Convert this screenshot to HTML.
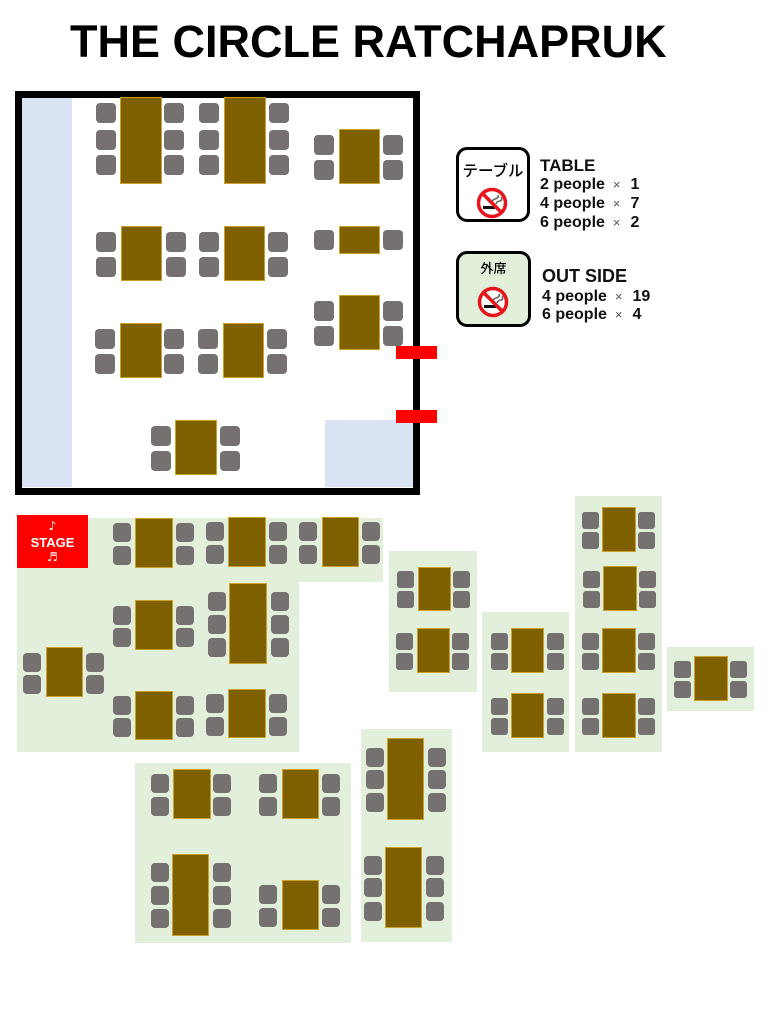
<!DOCTYPE html>
<html><head><meta charset="utf-8"><style>
*{margin:0;padding:0;box-sizing:border-box}
body{width:768px;height:1024px;background:#fff;position:relative;overflow:hidden;font-family:"Liberation Sans",Arial,sans-serif}
div{position:absolute}
.t{background:#7f6000;border:1px solid #c9a227}
.c,.s,.m{background:#767171;border-radius:4px}
.c{width:20px;height:20px}
.s{width:18px;height:19px;border-radius:4px}
.m{width:17px;height:17px;border-radius:3px}
.g{background:#e2efda}
.b{background:#dae3f3}
.r{background:#ff0000}
.tx{white-space:nowrap;font-weight:bold;color:#111}
.x{font-weight:normal;font-size:13px;color:#555;margin-left:8px;margin-right:10px}
</style></head><body>

<div class="tx" style="left:70px;top:19px;font-size:45px;line-height:45px;color:#000">THE CIRCLE RATCHAPRUK</div>

<!-- room -->
<div class="b" style="left:22px;top:98px;width:50px;height:389px"></div>
<div class="b" style="left:325px;top:420px;width:88px;height:67px"></div>
<div style="left:15px;top:91px;width:405px;height:404px;border:7px solid #000"></div>
<div class="r" style="left:396px;top:346px;width:41px;height:13px"></div>
<div class="r" style="left:396px;top:410px;width:41px;height:13px"></div>

<!-- T1 -->
<div class="t" style="left:120px;top:97px;width:42px;height:87px"></div>
<div class="c" style="left:96px;top:103px"></div><div class="c" style="left:96px;top:130px"></div><div class="c" style="left:96px;top:155px"></div>
<div class="c" style="left:164px;top:103px"></div><div class="c" style="left:164px;top:130px"></div><div class="c" style="left:164px;top:155px"></div>
<!-- T2 -->
<div class="t" style="left:224px;top:97px;width:42px;height:87px"></div>
<div class="c" style="left:199px;top:103px"></div><div class="c" style="left:199px;top:130px"></div><div class="c" style="left:199px;top:155px"></div>
<div class="c" style="left:269px;top:103px"></div><div class="c" style="left:269px;top:130px"></div><div class="c" style="left:269px;top:155px"></div>
<!-- T3 -->
<div class="t" style="left:339px;top:129px;width:41px;height:55px"></div>
<div class="c" style="left:314px;top:135px"></div><div class="c" style="left:314px;top:160px"></div>
<div class="c" style="left:383px;top:135px"></div><div class="c" style="left:383px;top:160px"></div>
<!-- T4 -->
<div class="t" style="left:121px;top:226px;width:41px;height:55px"></div>
<div class="c" style="left:96px;top:232px"></div><div class="c" style="left:96px;top:257px"></div>
<div class="c" style="left:166px;top:232px"></div><div class="c" style="left:166px;top:257px"></div>
<!-- T5 -->
<div class="t" style="left:224px;top:226px;width:41px;height:55px"></div>
<div class="c" style="left:199px;top:232px"></div><div class="c" style="left:199px;top:257px"></div>
<div class="c" style="left:268px;top:232px"></div><div class="c" style="left:268px;top:257px"></div>
<!-- T6 -->
<div class="t" style="left:339px;top:226px;width:41px;height:28px"></div>
<div class="c" style="left:314px;top:230px"></div><div class="c" style="left:383px;top:230px"></div>
<!-- T7 -->
<div class="t" style="left:120px;top:323px;width:42px;height:55px"></div>
<div class="c" style="left:95px;top:329px"></div><div class="c" style="left:95px;top:354px"></div>
<div class="c" style="left:164px;top:329px"></div><div class="c" style="left:164px;top:354px"></div>
<!-- T8 -->
<div class="t" style="left:223px;top:323px;width:41px;height:55px"></div>
<div class="c" style="left:198px;top:329px"></div><div class="c" style="left:198px;top:354px"></div>
<div class="c" style="left:267px;top:329px"></div><div class="c" style="left:267px;top:354px"></div>
<!-- T9 -->
<div class="t" style="left:339px;top:295px;width:41px;height:55px"></div>
<div class="c" style="left:314px;top:301px"></div><div class="c" style="left:314px;top:326px"></div>
<div class="c" style="left:383px;top:301px"></div><div class="c" style="left:383px;top:326px"></div>
<!-- T10 -->
<div class="t" style="left:175px;top:420px;width:42px;height:55px"></div>
<div class="c" style="left:151px;top:426px"></div><div class="c" style="left:151px;top:451px"></div>
<div class="c" style="left:220px;top:426px"></div><div class="c" style="left:220px;top:451px"></div>

<!-- legend -->
<div style="left:456px;top:147px;width:74px;height:75px;border:3.5px solid #000;border-radius:11px;background:#fff"></div>
<div style="left:456px;top:163px;width:74px;text-align:center;font-family:'Liberation Sans','Noto Sans CJK JP',sans-serif;font-size:15.5px;font-weight:500;line-height:18px;color:#000">テーブル</div>
<svg style="position:absolute;left:475px;top:186px" width="34" height="34" viewBox="-17 -17 34 34">
<circle r="13.5" fill="#fff" stroke="#e8141b" stroke-width="3.5"/>
<rect x="-9" y="3" width="12" height="3" fill="#111"/>
<path d="M1 1 q-2 -4 2 -5 q4 -1 3 -4 M4 1 q1 -3 4 -3 q3 -1 1 -4" fill="none" stroke="#666" stroke-width="1.6"/>
<line x1="-9.5" y1="-9.5" x2="9.5" y2="9.5" stroke="#e8141b" stroke-width="3.5"/>
</svg>

<div style="left:456px;top:251px;width:75px;height:76px;border:3.5px solid #000;border-radius:11px;background:#e2efda"></div>
<div style="left:456px;top:261px;width:75px;text-align:center;font-family:'Liberation Sans','Noto Sans CJK JP',sans-serif;font-size:13px;font-weight:500;line-height:16px;color:#000">外席</div>
<svg style="position:absolute;left:476px;top:285px" width="34" height="34" viewBox="-17 -17 34 34">
<circle r="13.5" fill="#fff" stroke="#e8141b" stroke-width="3.5"/>
<rect x="-9" y="3" width="12" height="3" fill="#111"/>
<path d="M1 1 q-2 -4 2 -5 q4 -1 3 -4 M4 1 q1 -3 4 -3 q3 -1 1 -4" fill="none" stroke="#666" stroke-width="1.6"/>
<line x1="-9.5" y1="-9.5" x2="9.5" y2="9.5" stroke="#e8141b" stroke-width="3.5"/>
</svg>

<div class="tx" style="left:540px;top:156.6px;font-size:17px;line-height:17px">TABLE</div>
<div class="tx" style="left:540px;top:176.5px;font-size:16px;line-height:16px">2 people<span class="x">×</span>1</div>
<div class="tx" style="left:540px;top:195.5px;font-size:16px;line-height:16px">4 people<span class="x">×</span>7</div>
<div class="tx" style="left:540px;top:214.5px;font-size:16px;line-height:16px">6 people<span class="x">×</span>2</div>
<div class="tx" style="left:542px;top:266.8px;font-size:18px;line-height:18px">OUT SIDE</div>
<div class="tx" style="left:542px;top:288.5px;font-size:16px;line-height:16px">4 people<span class="x">×</span>19</div>
<div class="tx" style="left:542px;top:306.5px;font-size:16px;line-height:16px">6 people<span class="x">×</span>4</div>

<!-- outside green areas -->
<div class="g" style="left:17px;top:518px;width:366px;height:64px"></div>
<div class="g" style="left:17px;top:582px;width:282px;height:170px"></div>
<div class="g" style="left:389px;top:551px;width:88px;height:141px"></div>
<div class="g" style="left:482px;top:612px;width:87px;height:140px"></div>
<div class="g" style="left:575px;top:496px;width:87px;height:256px"></div>
<div class="g" style="left:667px;top:647px;width:87px;height:64px"></div>
<div class="g" style="left:135px;top:763px;width:216px;height:180px"></div>
<div class="g" style="left:361px;top:729px;width:91px;height:213px"></div>

<!-- stage -->
<div class="r" style="left:17px;top:515px;width:71px;height:53px"></div>
<div style="left:17px;top:519px;width:71px;text-align:center;color:#fff;font-size:12px;line-height:14px;font-family:'DejaVu Sans',sans-serif">♪</div>
<div style="left:17px;top:536px;width:71px;text-align:center;color:#fff;font-weight:bold;font-size:13px;line-height:14px">STAGE</div>
<div style="left:17px;top:550px;width:71px;text-align:center;color:#fff;font-size:12px;line-height:14px;font-family:'DejaVu Sans',sans-serif">♬</div>

<!-- Ta -->
<div class="t" style="left:135px;top:518px;width:38px;height:50px"></div>
<div class="s" style="left:113px;top:523px"></div><div class="s" style="left:113px;top:546px"></div>
<div class="s" style="left:176px;top:523px"></div><div class="s" style="left:176px;top:546px"></div>
<!-- Tb -->
<div class="t" style="left:228px;top:517px;width:38px;height:50px"></div>
<div class="s" style="left:206px;top:522px"></div><div class="s" style="left:206px;top:545px"></div>
<div class="s" style="left:269px;top:522px"></div><div class="s" style="left:269px;top:545px"></div>
<!-- Tc -->
<div class="t" style="left:322px;top:517px;width:37px;height:50px"></div>
<div class="s" style="left:299px;top:522px"></div><div class="s" style="left:299px;top:545px"></div>
<div class="s" style="left:362px;top:522px"></div><div class="s" style="left:362px;top:545px"></div>
<!-- Td -->
<div class="t" style="left:135px;top:600px;width:38px;height:50px"></div>
<div class="s" style="left:113px;top:606px"></div><div class="s" style="left:113px;top:628px"></div>
<div class="s" style="left:176px;top:606px"></div><div class="s" style="left:176px;top:628px"></div>
<!-- Te -->
<div class="t" style="left:229px;top:583px;width:38px;height:81px"></div>
<div class="s" style="left:208px;top:592px"></div><div class="s" style="left:208px;top:615px"></div><div class="s" style="left:208px;top:638px"></div>
<div class="s" style="left:271px;top:592px"></div><div class="s" style="left:271px;top:615px"></div><div class="s" style="left:271px;top:638px"></div>
<!-- Tf -->
<div class="t" style="left:46px;top:647px;width:37px;height:50px"></div>
<div class="s" style="left:23px;top:653px"></div><div class="s" style="left:23px;top:675px"></div>
<div class="s" style="left:86px;top:653px"></div><div class="s" style="left:86px;top:675px"></div>
<!-- Tg -->
<div class="t" style="left:135px;top:691px;width:38px;height:49px"></div>
<div class="s" style="left:113px;top:696px"></div><div class="s" style="left:113px;top:718px"></div>
<div class="s" style="left:176px;top:696px"></div><div class="s" style="left:176px;top:718px"></div>
<!-- Th -->
<div class="t" style="left:228px;top:689px;width:38px;height:49px"></div>
<div class="s" style="left:206px;top:694px"></div><div class="s" style="left:206px;top:717px"></div>
<div class="s" style="left:269px;top:694px"></div><div class="s" style="left:269px;top:717px"></div>

<!-- Block A -->
<div class="t" style="left:418px;top:567px;width:33px;height:44px"></div>
<div class="m" style="left:397px;top:571px"></div><div class="m" style="left:397px;top:591px"></div>
<div class="m" style="left:453px;top:571px"></div><div class="m" style="left:453px;top:591px"></div>
<div class="t" style="left:417px;top:628px;width:33px;height:45px"></div>
<div class="m" style="left:396px;top:633px"></div><div class="m" style="left:396px;top:653px"></div>
<div class="m" style="left:452px;top:633px"></div><div class="m" style="left:452px;top:653px"></div>
<!-- Block B -->
<div class="t" style="left:511px;top:628px;width:33px;height:45px"></div>
<div class="m" style="left:491px;top:633px"></div><div class="m" style="left:491px;top:653px"></div>
<div class="m" style="left:547px;top:633px"></div><div class="m" style="left:547px;top:653px"></div>
<div class="t" style="left:511px;top:693px;width:33px;height:45px"></div>
<div class="m" style="left:491px;top:698px"></div><div class="m" style="left:491px;top:718px"></div>
<div class="m" style="left:547px;top:698px"></div><div class="m" style="left:547px;top:718px"></div>
<!-- Block C -->
<div class="t" style="left:602px;top:507px;width:34px;height:45px"></div>
<div class="m" style="left:582px;top:512px"></div><div class="m" style="left:582px;top:532px"></div>
<div class="m" style="left:638px;top:512px"></div><div class="m" style="left:638px;top:532px"></div>
<div class="t" style="left:603px;top:566px;width:34px;height:45px"></div>
<div class="m" style="left:583px;top:571px"></div><div class="m" style="left:583px;top:591px"></div>
<div class="m" style="left:639px;top:571px"></div><div class="m" style="left:639px;top:591px"></div>
<div class="t" style="left:602px;top:628px;width:34px;height:45px"></div>
<div class="m" style="left:582px;top:633px"></div><div class="m" style="left:582px;top:653px"></div>
<div class="m" style="left:638px;top:633px"></div><div class="m" style="left:638px;top:653px"></div>
<div class="t" style="left:602px;top:693px;width:34px;height:45px"></div>
<div class="m" style="left:582px;top:698px"></div><div class="m" style="left:582px;top:718px"></div>
<div class="m" style="left:638px;top:698px"></div><div class="m" style="left:638px;top:718px"></div>
<!-- Block D -->
<div class="t" style="left:694px;top:656px;width:34px;height:45px"></div>
<div class="m" style="left:674px;top:661px"></div><div class="m" style="left:674px;top:681px"></div>
<div class="m" style="left:730px;top:661px"></div><div class="m" style="left:730px;top:681px"></div>

<!-- Block E -->
<div class="t" style="left:173px;top:769px;width:38px;height:50px"></div>
<div class="s" style="left:151px;top:774px"></div><div class="s" style="left:151px;top:797px"></div>
<div class="s" style="left:213px;top:774px"></div><div class="s" style="left:213px;top:797px"></div>
<div class="t" style="left:282px;top:769px;width:37px;height:50px"></div>
<div class="s" style="left:259px;top:774px"></div><div class="s" style="left:259px;top:797px"></div>
<div class="s" style="left:322px;top:774px"></div><div class="s" style="left:322px;top:797px"></div>
<div class="t" style="left:172px;top:854px;width:37px;height:82px"></div>
<div class="s" style="left:151px;top:863px"></div><div class="s" style="left:151px;top:886px"></div><div class="s" style="left:151px;top:909px"></div>
<div class="s" style="left:213px;top:863px"></div><div class="s" style="left:213px;top:886px"></div><div class="s" style="left:213px;top:909px"></div>
<div class="t" style="left:282px;top:880px;width:37px;height:50px"></div>
<div class="s" style="left:259px;top:885px"></div><div class="s" style="left:259px;top:908px"></div>
<div class="s" style="left:322px;top:885px"></div><div class="s" style="left:322px;top:908px"></div>
<!-- Block F -->
<div class="t" style="left:387px;top:738px;width:37px;height:82px"></div>
<div class="s" style="left:366px;top:748px"></div><div class="s" style="left:366px;top:770px"></div><div class="s" style="left:366px;top:793px"></div>
<div class="s" style="left:428px;top:748px"></div><div class="s" style="left:428px;top:770px"></div><div class="s" style="left:428px;top:793px"></div>
<div class="t" style="left:385px;top:847px;width:37px;height:81px"></div>
<div class="s" style="left:364px;top:856px"></div><div class="s" style="left:364px;top:878px"></div><div class="s" style="left:364px;top:902px"></div>
<div class="s" style="left:426px;top:856px"></div><div class="s" style="left:426px;top:878px"></div><div class="s" style="left:426px;top:902px"></div>

</body></html>
